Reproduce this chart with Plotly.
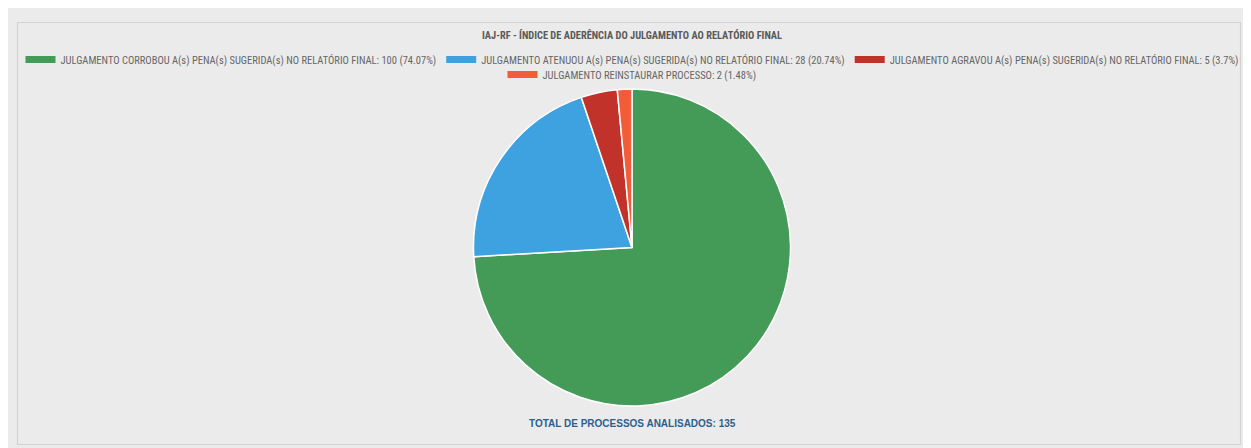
import plotly.graph_objects as go

W, H = 1251, 448

labels = [
    "JULGAMENTO CORROBOU A(s) PENA(s) SUGERIDA(s) NO RELATÓRIO FINAL",
    "JULGAMENTO ATENUOU A(s) PENA(s) SUGERIDA(s) NO RELATÓRIO FINAL",
    "JULGAMENTO AGRAVOU A(s) PENA(s) SUGERIDA(s) NO RELATÓRIO FINAL",
    "JULGAMENTO REINSTAURAR PROCESSO",
]
values = [100, 28, 5, 2]
colors = ["#449b58", "#3ea2e0", "#c0322a", "#f25c38"]
title_text = "IAJ-RF - ÍNDICE DE ADERÊNCIA DO JULGAMENTO AO RELATÓRIO FINAL"
total_label = "TOTAL DE PROCESSOS ANALISADOS"

total = sum(values)
pcts = [round(v / total * 100, 2) for v in values]
pct_str = [("%g" % p) for p in pcts]

OFF = 8  # page body margin offset
ML, MR = 5, 8
PW = W - ML - MR
CX = 632 - OFF  # horizontal centre in figure pixels


def px(x):
    return (x - OFF - ML) / PW


def py(y):
    return 1 - (y - OFF) / H


def cy(y):
    return 1 - (y - OFF) / H


NARROW = "Liberation Sans Narrow, Arial Narrow, Roboto Condensed, Liberation Sans, Arial, sans-serif"

fig = go.Figure()

fig.add_trace(go.Pie(
    labels=labels,
    values=values,
    marker=dict(colors=colors, line=dict(color="#ffffff", width=1.5)),
    sort=False,
    direction="clockwise",
    rotation=0,
    textinfo="none",
    showlegend=False,
    domain=dict(x=[px(473.5), px(790.5)], y=[py(406.5), py(88.5)]),
))

for i, (lab, v, p, c) in enumerate(zip(labels, values, pct_str, colors)):
    fig.add_trace(go.Scatter(
        x=[None], y=[None], mode="lines",
        line=dict(color=c, width=7),
        name=f"{lab}: {v} ({p}%)",
        legend="legend" if i < 3 else "legend2",
        hoverinfo="skip",
    ))

legend_common = dict(
    orientation="h",
    xref="container", yref="container",
    x=CX / W, xanchor="center",
    yanchor="middle",
    bgcolor="rgba(0,0,0,0)",
    font=dict(family=NARROW, size=10.5, color="#666666"),
    itemclick=False, itemdoubleclick=False,
    tracegroupgap=0,
)

fig.update_layout(
    width=W, height=H,
    margin=dict(l=ML, r=MR, t=0, b=0, autoexpand=False),
    paper_bgcolor="#ebebeb",
    plot_bgcolor="rgba(0,0,0,0)",
    xaxis=dict(visible=False),
    yaxis=dict(visible=False),
    title=dict(
        text=f"<b>{title_text}</b>",
        xref="container", yref="container",
        x=CX / W, xanchor="center",
        y=cy(35.5), yanchor="middle",
        font=dict(family=NARROW, size=10.4, color="#5a5a5a"),
        automargin=False,
    ),
    legend=dict(**legend_common, y=cy(59.5)),
    legend2=dict(**legend_common, y=cy(74.5)),
    shapes=[
        dict(type="rect", xref="paper", yref="paper", layer="below",
             x0=px(17.5), x1=px(1240.5), y0=py(22.5), y1=py(444.5),
             fillcolor="rgba(0,0,0,0)", line=dict(color="#d2d2d2", width=1.2)),
    ],
    annotations=[
        dict(text=f"<b>{total_label}: {total}</b>", showarrow=False,
             xref="paper", yref="paper", x=px(632.5), y=py(423),
             xanchor="center", yanchor="middle",
             font=dict(family="Liberation Sans, Arial, sans-serif", size=10, color="#2c5f8f")),
    ],
)

fig.write_html("out.html")
